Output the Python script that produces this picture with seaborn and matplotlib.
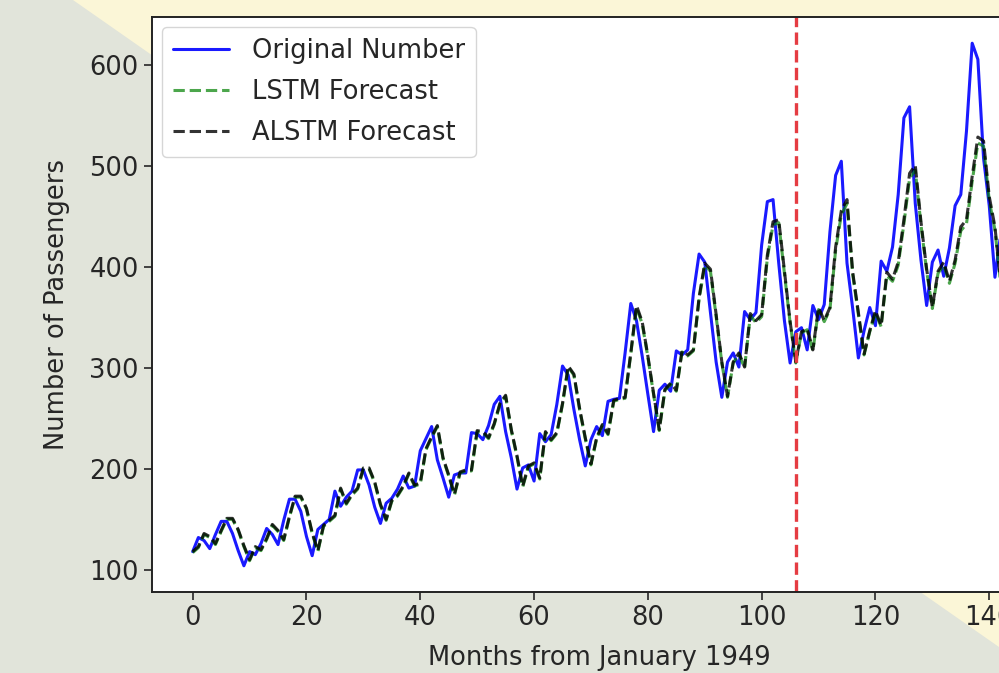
import numpy as np
import pandas as pd
import seaborn as sns
import matplotlib.pyplot as plt
from matplotlib.patches import Polygon

# ── Data (monthly airline passengers, one-step-ahead forecasts) ──────────────
months = list(range(143))

original = [
    118, 132, 129, 121, 135, 148, 148, 136, 119, 104, 118,
    115, 126, 141, 135, 125, 149, 170, 170, 158, 133, 114, 140,
    145, 150, 178, 163, 172, 178, 199, 199, 184, 162, 146, 166,
    171, 180, 193, 181, 183, 218, 230, 242, 209, 191, 172, 194,
    196, 196, 236, 235, 229, 243, 264, 272, 237, 211, 180, 201,
    204, 188, 235, 227, 234, 264, 302, 293, 259, 229, 203, 229,
    242, 233, 267, 269, 270, 315, 364, 347, 312, 274, 237, 278,
    284, 277, 317, 313, 318, 374, 413, 405, 355, 306, 271, 306,
    315, 301, 356, 348, 355, 422, 465, 467, 404, 347, 305, 336,
    340, 318, 362, 348, 363, 435, 491, 505, 404, 359, 310, 337,
    360, 342, 406, 396, 420, 472, 548, 559, 463, 407, 362, 405,
    417, 391, 419, 461, 472, 535, 622, 606, 508, 461, 390, 432,
]

alstm_forecast = [
    118, 123, 136, 133, 126, 139, 151, 151, 140, 124, 110, 123,
    120, 131, 145, 139, 130, 153, 173, 173, 161, 137, 119, 144,
    149, 154, 181, 166, 175, 181, 201, 201, 187, 165, 150, 169,
    174, 183, 196, 184, 186, 220, 232, 243, 211, 194, 175, 197,
    199, 199, 238, 237, 231, 245, 265, 273, 239, 213, 183, 203,
    206, 191, 237, 229, 236, 265, 302, 294, 260, 231, 205, 231,
    244, 235, 268, 270, 271, 315, 362, 346, 312, 275, 239, 279,
    285, 278, 317, 313, 318, 370, 404, 398, 353, 306, 272, 306,
    315, 301, 354, 347, 353, 412, 445, 447, 396, 346, 306, 336,
    339, 318, 360, 347, 360, 420, 456, 467, 395, 355, 314, 337,
    357, 342, 395, 388, 405, 447, 493, 501, 445, 398, 360, 396,
    405, 386, 407, 440, 447, 490, 529, 525, 470, 440, 385,
]

lstm_forecast = [
    117, 122, 135, 132, 125, 138, 150, 150, 139, 123, 109, 122,
    119, 130, 144, 138, 129, 152, 172, 172, 160, 136, 118, 143,
    148, 153, 180, 165, 174, 180, 200, 200, 186, 164, 149, 168,
    173, 182, 195, 183, 185, 219, 231, 242, 210, 193, 174, 196,
    198, 198, 237, 236, 230, 244, 264, 272, 238, 212, 182, 202,
    205, 190, 236, 228, 235, 264, 301, 293, 259, 230, 204, 230,
    243, 234, 267, 269, 270, 314, 360, 344, 311, 274, 238, 278,
    284, 277, 316, 312, 317, 368, 402, 396, 351, 305, 271, 305,
    314, 300, 352, 345, 351, 409, 442, 444, 394, 345, 305, 335,
    338, 317, 358, 346, 358, 417, 452, 463, 393, 353, 313, 336,
    355, 341, 392, 386, 402, 443, 488, 496, 442, 396, 359, 394,
    402, 384, 404, 436, 443, 485, 523, 520, 466, 437, 384,
]

split_month = 106

df = pd.DataFrame({
    "month": months,
    "Original Number": original,
    "LSTM Forecast": lstm_forecast,
    "ALSTM Forecast": alstm_forecast,
})

# ── Plot ─────────────────────────────────────────────────────────────────────
sns.set_style("ticks")
plt.rcParams["font.family"] = ["DejaVu Sans"]
FS = 18.5

fig = plt.figure(figsize=(9.99, 6.73), dpi=100, facecolor="#e1e4da")

# slide background: cream wedge above the diagonal
W, H = 999, 673
wedge = [(73, 0), (W, 0), (W, 647)]
fig.patches.append(Polygon([(x / W, 1 - y / H) for x, y in wedge], closed=True,
                           transform=fig.transFigure, facecolor="#fbf6d7",
                           edgecolor="none", zorder=-1))

# axes run past the right border, as in the cropped screenshot
ax = fig.add_axes([152 / W, 81 / H, 895 / W, 575 / H])
ax.set_facecolor("white")

sns.lineplot(data=df, x="month", y="Original Number", color="#1a1aff",
             linewidth=2.2, label="Original Number", ax=ax)
sns.lineplot(data=df, x="month", y="LSTM Forecast", color="green", alpha=0.7,
             linestyle="--", linewidth=2.2, label="LSTM Forecast", ax=ax)
sns.lineplot(data=df, x="month", y="ALSTM Forecast", color="black", alpha=0.8,
             linestyle="--", linewidth=2.2, label="ALSTM Forecast", ax=ax)
ax.axvline(split_month, color="#e53c42", linestyle="--", linewidth=2.4)

ax.set_xlim(-7.15, 150.15)
ax.set_ylim(78, 648)
ax.set_xticks(np.arange(0, 141, 20))
ax.set_yticks(np.arange(100, 601, 100))
ax.set_xlabel("Months from January 1949", fontsize=FS, color="#262626", labelpad=10)
ax.set_ylabel("Number of Passengers", fontsize=FS, color="#262626", labelpad=14)
ax.tick_params(labelsize=FS, length=6, width=1.2, colors="#262626")
for s in ax.spines.values():
    s.set_linewidth(1.4)
    s.set_color("#222222")

ax.legend(loc="upper left", fontsize=FS, frameon=True, framealpha=0.8,
          edgecolor="#cccccc", fancybox=True, handlelength=2.2,
          borderaxespad=0.4, labelspacing=0.6, handletextpad=0.9)

fig.savefig("out.png", dpi=100, facecolor=fig.get_facecolor())
plt.close(fig)
